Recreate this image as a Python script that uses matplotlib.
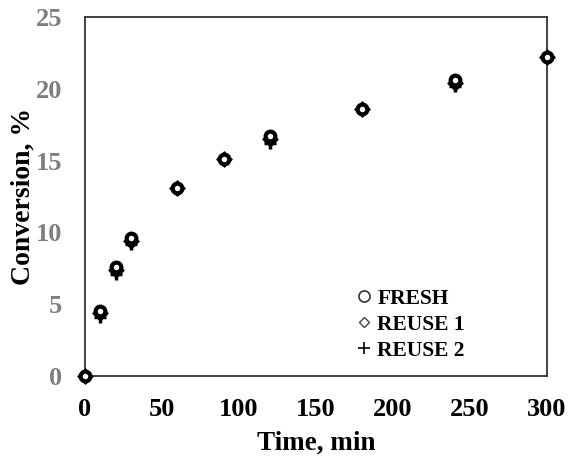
import matplotlib.pyplot as plt
from matplotlib.lines import Line2D

# reaction time, min
time = [0, 10, 20, 30, 60, 90, 120, 180, 240, 300]
# conversion, %
fresh = [0, 4.5, 7.6, 9.6, 13.1, 15.1, 16.7, 18.6, 20.6, 22.2]
reuse1 = [0, 4.4, 7.4, 9.4, 13.1, 15.1, 16.5, 18.6, 20.4, 22.2]
reuse2 = [0, 4.1, 7.1, 9.2, 13.0, 15.1, 16.2, 18.6, 20.2, 22.2]
labels = ['FRESH', 'REUSE 1', 'REUSE 2']

plt.rcParams['font.family'] = ['Liberation Serif', 'DejaVu Serif']
plt.rcParams['font.weight'] = 'bold'

fig = plt.figure(figsize=(5.69, 4.57), dpi=100)
ax = fig.add_axes([0.1494, 0.1772, 0.8119, 0.7856])

ax.plot(time, reuse2, linestyle='none', marker='+', markersize=9,
        markeredgewidth=2.5, color='black', clip_on=False, zorder=3)
ax.plot(time, reuse1, linestyle='none', marker='D', markersize=6,
        markerfacecolor='white', markeredgewidth=2.5, color='black',
        clip_on=False, zorder=4)
ax.plot(time, fresh, linestyle='none', marker='o', markersize=7,
        markerfacecolor='white', markeredgewidth=3, color='black',
        clip_on=False, zorder=5)

ax.set_xlim(0, 300)
ax.set_ylim(0, 25)
ax.set_xticks(range(0, 301, 50))
ax.set_yticks(range(0, 26, 5))
ax.tick_params(length=0, labelsize=19)
ax.tick_params(axis='y', labelcolor='#7f7f7f', pad=16.5)
ax.tick_params(axis='x', pad=16)
for lab in ax.get_xticklabels() + ax.get_yticklabels():
    lab.set_fontweight('bold')
for sp in ax.spines.values():
    sp.set_linewidth(1.3)
    sp.set_color('#333333')

ax.set_xlabel('Time, min', fontsize=19.5, fontweight='bold', labelpad=7)
ax.set_ylabel('Conversion, %', fontsize=20, fontweight='bold', labelpad=0)

handles = [
    Line2D([], [], linestyle='none', marker='o', markersize=8,
           markerfacecolor='white', markeredgecolor='#333333', markeredgewidth=1.2),
    Line2D([], [], linestyle='none', marker='D', markersize=5,
           markerfacecolor='white', markeredgecolor='#444444', markeredgewidth=1.0),
    Line2D([], [], linestyle='none', marker='+', markersize=9,
           markeredgecolor='black', markeredgewidth=1.2),
]
ax.legend(handles, labels, loc='lower left', bbox_to_anchor=(0.549, -0.012),
          frameon=False, handlelength=0.6, handletextpad=0.3,
          labelspacing=0.28, prop={'weight': 'bold', 'size': 15.5})

fig.savefig('out.png', dpi=100)
